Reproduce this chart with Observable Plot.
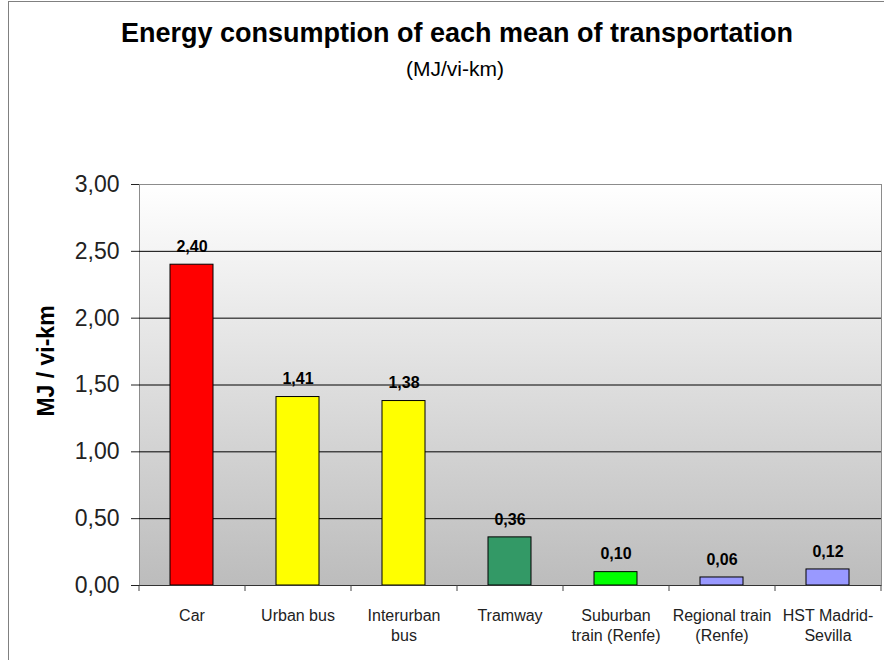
<!DOCTYPE html>
<html><head><meta charset="utf-8">
<script src="https://cdn.jsdelivr.net/npm/d3@7"></script>
<script src="https://cdn.jsdelivr.net/npm/@observablehq/plot@0.6"></script>
<style>
body{margin:0;background:#fff;overflow:hidden;font-family:"Liberation Sans",Arial,sans-serif;}
#wrap{position:relative;width:884px;height:660px;overflow:hidden;background:#fff;}
#border{position:absolute;left:8px;top:1px;width:1000px;height:1000px;border:1px solid #808080;}
#title{position:absolute;left:0;width:914px;top:18px;text-align:center;font-weight:bold;font-size:27px;color:#000;white-space:nowrap;}
#subtitle{position:absolute;left:0;width:910px;top:57px;text-align:center;font-size:21px;color:#000;white-space:nowrap;}
#chart{position:absolute;left:0;top:120px;}
</style></head>
<body>
<div id="wrap">
  <div id="border"></div>
  <div id="title">Energy consumption of each mean of transportation</div>
  <div id="subtitle">(MJ/vi-km)</div>
  <div id="chart"></div>
</div>
<script>
const categories = ["Car","Urban bus","Interurban bus","Tramway","Suburban train (Renfe)","Regional train (Renfe)","HST Madrid-Sevilla"];
const tickLabels = ["Car","Urban bus","Interurban\nbus","Tramway","Suburban\ntrain (Renfe)","Regional train\n(Renfe)","HST Madrid-\nSevilla"];
const values = [2.40,1.41,1.38,0.36,0.10,0.06,0.12];
const barColors = ["#ff0000","#ffff00","#ffff00","#339966","#00ff00","#9999ff","#9999ff"];
const yTicks = [0,0.5,1,1.5,2,2.5,3];
const gridValues = [0.5,1,1.5,2,2.5];
const yTitle = "MJ / vi-km";

const data = categories.map((c,i)=>({category:c, value:values[i], color:barColors[i]}));
const W=884, H=540, ml=139, mr=3, mt=64, mb=75;
const plotH = H - mt - mb;
const step = (W-ml-mr)/categories.length;
const fmt = d => d.toFixed(2).replace(".", ",");

const chart = Plot.plot({
  width:W, height:H, marginLeft:ml, marginRight:mr, marginTop:mt, marginBottom:mb,
  style:{fontFamily:"Liberation Sans, Arial, sans-serif", background:"transparent", overflow:"visible"},
  x:{domain:categories, paddingInner:0.59, paddingOuter:0.295, label:null},
  y:{domain:[0,3], label:null},
  color:{type:"identity"},
  marks:[
    Plot.frame({fill:"url(#bgGrad)", stroke:"#8c8c8c"}),
    Plot.ruleY(gridValues, {stroke:"#000", strokeWidth:1}),
    Plot.barY(data, {x:"category", y:"value", fill:"color", stroke:"#000", strokeWidth:1}),
    Plot.text(data, {x:"category", y:"value", text:d=>fmt(d.value), dy:-18, fontWeight:"bold", fontSize:16, fill:"#000"}),
    Plot.ruleY([0], {stroke:"#333"}),
    Plot.ruleX(categories, {x:d=>d, dx:-step/2, insetTop:plotH, insetBottom:-6, stroke:"#444"}),
    Plot.ruleX(categories.slice(-1), {x:d=>d, dx:step/2, insetTop:plotH, insetBottom:-6, stroke:"#444"}),
    Plot.axisY({ticks:yTicks, tickFormat:fmt, tickSize:8, tickPadding:12, fontSize:23, color:"#222", label:null}),
    Plot.axisX({tickSize:0, tickPadding:21.6, fontSize:16, lineHeight:1.25, color:"#222", label:null,
      tickFormat:d=>tickLabels[categories.indexOf(d)]}),
    Plot.text([yTitle], {frameAnchor:"left", textAnchor:"middle", dx:-93, dy:-24, rotate:-90, fontSize:23, fontWeight:"bold", fill:"#000"})
  ]
});
d3.select(chart).insert("defs", ":first-child").html(
  '<linearGradient id="bgGrad" x1="0" y1="0" x2="0" y2="1"><stop offset="0" stop-color="#ffffff"/><stop offset="1" stop-color="#bcbcbc"/></linearGradient>');
document.getElementById("chart").appendChild(chart);
</script>
</body></html>
